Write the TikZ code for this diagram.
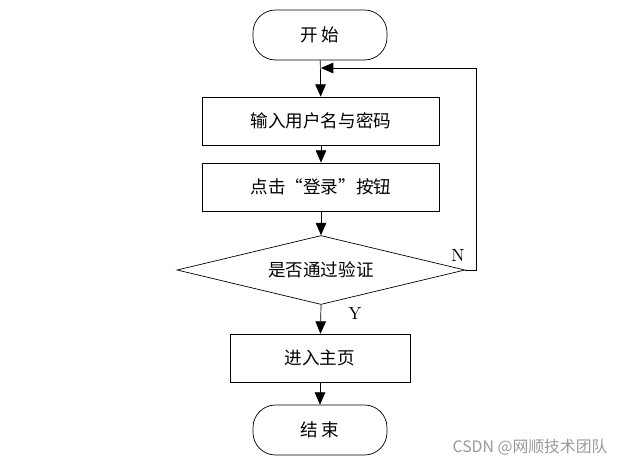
\documentclass[tikz,border=0pt]{standalone}
\usepackage{fontspec}
\newfontfamily\cjk{Noto Sans CJK SC}
\usetikzlibrary{shapes.geometric,arrows.meta}
\tikzset{box/.style={draw,minimum width=4.74cm,minimum height=0.96cm},
  term/.style={draw,rounded corners=0.45cm,minimum width=2.68cm,minimum height=1cm},
  arr/.style={-{Triangle[length=7pt,width=6pt]}}}
\begin{document}
\begin{tikzpicture}[x=0.02cm,y=-0.02cm]
\useasboundingbox (0,0) rectangle (637,467);
\node[term,font=\cjk] (s) at (320,35) {开\ 始};
\node[box,font=\cjk] (b1) at (321,121) {输入用户名与密码};
\node[box,font=\cjk] (b2) at (321,187) {点击“登录”按钮};
\node[draw,diamond,aspect=4.17,minimum width=5.76cm,minimum height=1.38cm,inner sep=0pt,font=\cjk] (d) at (321,270) {是否通过验证};
\node[box,minimum width=3.6cm,font=\cjk] (b3) at (320,358) {进入主页};
\node[term,font=\cjk] (e) at (320,430) {结\ 束};
\coordinate (j) at (321,68);
\draw[arr] (s) -- (b1);
\draw[arr] (b1) -- (b2);
\draw[arr] (b2) -- (d);
\draw[arr] (d.south) -- (b3);
\draw[arr] (b3) -- (e);
\draw[arr] (d.east) -- (476,270) -- (476,68) -- (j);
\node (n) at (458,255) {N};
\node (y) at (355,313) {Y};
\node[text=gray!80,font=\cjk\small] (w) at (530,447) {CSDN @网顺技术团队};
\end{tikzpicture}
\end{document}
